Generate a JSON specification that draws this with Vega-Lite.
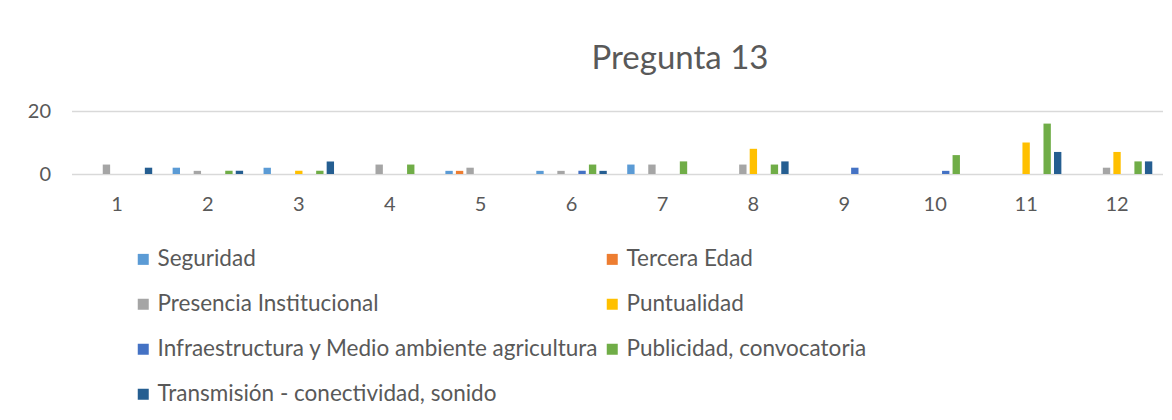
{
  "$schema": "https://vega.github.io/schema/vega-lite/v6.json",
  "autosize": "none",
  "width": 1091,
  "height": 63,
  "padding": {"left": 71.5, "top": 111, "right": 9.5, "bottom": 246},
  "background": "white",
  "config": {
    "view": {"stroke": null},
    "font": "Lato"
  },
  "title": {
    "text": "Pregunta 13",
    "fontSize": 33,
    "fontWeight": "normal",
    "font": "Lato",
    "color": "#595959",
    "anchor": "middle",
    "frame": "group",
    "dx": 63,
    "baseline": "alphabetic",
    "offset": -1
  },
  "data": {
    "values": [
      {"pregunta": "1", "serie": "Presencia Institucional", "valor": 3},
      {"pregunta": "1", "serie": "Transmisión - conectividad, sonido", "valor": 2},
      {"pregunta": "2", "serie": "Seguridad", "valor": 2},
      {"pregunta": "2", "serie": "Presencia Institucional", "valor": 1},
      {"pregunta": "2", "serie": "Publicidad, convocatoria", "valor": 1},
      {"pregunta": "2", "serie": "Transmisión - conectividad, sonido", "valor": 1},
      {"pregunta": "3", "serie": "Seguridad", "valor": 2},
      {"pregunta": "3", "serie": "Puntualidad", "valor": 1},
      {"pregunta": "3", "serie": "Publicidad, convocatoria", "valor": 1},
      {"pregunta": "3", "serie": "Transmisión - conectividad, sonido", "valor": 4},
      {"pregunta": "4", "serie": "Presencia Institucional", "valor": 3},
      {"pregunta": "4", "serie": "Publicidad, convocatoria", "valor": 3},
      {"pregunta": "5", "serie": "Seguridad", "valor": 1},
      {"pregunta": "5", "serie": "Tercera Edad", "valor": 1},
      {"pregunta": "5", "serie": "Presencia Institucional", "valor": 2},
      {"pregunta": "6", "serie": "Seguridad", "valor": 1},
      {"pregunta": "6", "serie": "Presencia Institucional", "valor": 1},
      {"pregunta": "6", "serie": "Infraestructura y Medio ambiente agricultura", "valor": 1},
      {"pregunta": "6", "serie": "Publicidad, convocatoria", "valor": 3},
      {"pregunta": "6", "serie": "Transmisión - conectividad, sonido", "valor": 1},
      {"pregunta": "7", "serie": "Seguridad", "valor": 3},
      {"pregunta": "7", "serie": "Presencia Institucional", "valor": 3},
      {"pregunta": "7", "serie": "Publicidad, convocatoria", "valor": 4},
      {"pregunta": "8", "serie": "Presencia Institucional", "valor": 3},
      {"pregunta": "8", "serie": "Puntualidad", "valor": 8},
      {"pregunta": "8", "serie": "Publicidad, convocatoria", "valor": 3},
      {"pregunta": "8", "serie": "Transmisión - conectividad, sonido", "valor": 4},
      {"pregunta": "9", "serie": "Infraestructura y Medio ambiente agricultura", "valor": 2},
      {"pregunta": "10", "serie": "Infraestructura y Medio ambiente agricultura", "valor": 1},
      {"pregunta": "10", "serie": "Publicidad, convocatoria", "valor": 6},
      {"pregunta": "11", "serie": "Puntualidad", "valor": 10},
      {"pregunta": "11", "serie": "Publicidad, convocatoria", "valor": 16},
      {"pregunta": "11", "serie": "Transmisión - conectividad, sonido", "valor": 7},
      {"pregunta": "12", "serie": "Presencia Institucional", "valor": 2},
      {"pregunta": "12", "serie": "Puntualidad", "valor": 7},
      {"pregunta": "12", "serie": "Publicidad, convocatoria", "valor": 4},
      {"pregunta": "12", "serie": "Transmisión - conectividad, sonido", "valor": 4}
    ]
  },
  "mark": {"type": "bar"},
  "encoding": {
    "x": {
      "field": "pregunta",
      "type": "ordinal",
      "sort": ["1","2","3","4","5","6","7","8","9","10","11","12"],
      "scale": {"domain": ["1","2","3","4","5","6","7","8","9","10","11","12"], "paddingInner": 0.19, "paddingOuter": 0.095},
      "axis": {
        "title": null,
        "labelAngle": 0,
        "labelFontSize": 20,
        "labelColor": "#595959",
        "labelFont": "Lato",
        "labelPadding": 20,
        "ticks": false,
        "domain": false,
        "grid": false
      }
    },
    "xOffset": {
      "field": "serie",
      "type": "nominal",
      "scale": {
        "domain": ["Seguridad", "Tercera Edad", "Presencia Institucional", "Puntualidad", "Infraestructura y Medio ambiente agricultura", "Publicidad, convocatoria", "Transmisión - conectividad, sonido"],
        "paddingInner": 0.3,
        "paddingOuter": 0.15
      }
    },
    "y": {
      "field": "valor",
      "type": "quantitative",
      "scale": {"domain": [0, 20], "nice": false},
      "axis": {
        "title": null,
        "values": [0, 20],
        "labelFontSize": 20,
        "labelColor": "#595959",
        "labelFont": "Lato",
        "labelPadding": 21,
        "ticks": false,
        "domain": false,
        "grid": true,
        "gridColor": "#D9D9D9",
        "gridWidth": 1.5
      }
    },
    "color": {
      "field": "serie",
      "type": "nominal",
      "scale": {
        "domain": ["Seguridad", "Tercera Edad", "Presencia Institucional", "Puntualidad", "Infraestructura y Medio ambiente agricultura", "Publicidad, convocatoria", "Transmisión - conectividad, sonido"],
        "range": ["#5B9BD5", "#ED7D31", "#A5A5A5", "#FFC000", "#4472C4", "#70AD47", "#255E91"]
      },
      "legend": {
        "title": null,
        "orient": "none",
        "direction": "horizontal",
        "legendX": 60.5,
        "legendY": 137,
        "columns": 2,
        "columnPadding": 2,
        "rowPadding": 22,
        "symbolType": "square",
        "symbolSize": 121,
        "symbolStrokeWidth": 0,
        "labelFontSize": 22.5,
        "labelFont": "Lato",
        "labelColor": "#595959",
        "labelOffset": 3,
        "labelLimit": 600
      }
    }
  }
}
